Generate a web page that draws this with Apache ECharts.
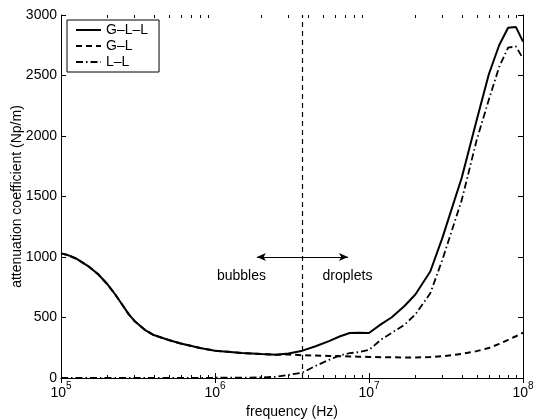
<!DOCTYPE html>
<html><head><meta charset="utf-8">
<script src="https://cdn.jsdelivr.net/npm/echarts@6/dist/echarts.min.js"></script>
<style>html,body{margin:0;padding:0;background:#fff}#c{width:533px;height:419px}</style>
</head><body><div id="c"></div>
<script>
// ---- data ----
const freq = [1e5,1.1e5,1.25e5,1.5e5,1.75e5,2e5,2.25e5,2.5e5,2.75e5,3e5,3.5e5,4e5,5e5,6e5,8e5,1e6,1.5e6,2e6,2.5e6,3e6,3.7e6,4.5e6,5.5e6,6.5e6,7.5e6,8.5e6,1e7,1.2e7,1.4e7,1.7e7,2e7,2.5e7,3e7,4e7,5e7,6e7,7e7,8e7,9e7,1e8];
const gll  = [1030,1017,988,925,855,775,690,605,528,472,398,355,314,285,248,225,207,198,193,202,226,262,305,345,372,374,372,445,500,595,690,880,1160,1655,2130,2510,2750,2895,2900,2780];
const gl   = [1030,1017,988,925,855,775,690,605,528,472,398,355,314,285,248,225,207,198,193,194,188,185,182,180,178,176,174,172,171,170,170,173,180,200,222,248,282,315,345,375];
const ll   = [0,0,0,0,0,0,0,0,0,0,0,0,0,0,0,2,3,5,10,25,45,100,150,188,205,213,232,318,372,440,525,700,980,1470,1965,2300,2570,2730,2740,2640];
const seriesNames = ['G–L–L','G–L','L–L'];
const xRange = [1e5, 1e8];
const yMin = 0, yMax = 3000, yInterval = 500;
const dividerFreq = 3.7e6;
const arrowFreqs = [1.87e6, 7.3e6];
const arrowLevel = 1000;
const regionLabels = [['bubbles', 1.486e6, 843], ['droplets', 7.25e6, 843]];
const xTitle = 'frequency (Hz)';
const yTitle = 'attenuation coefficient (Np/m)';

const FONT = '"Liberation Sans", Arial, Helvetica, sans-serif';
const pairs = v => freq.map((f, i) => [f, v[i]]);

const chart = echarts.init(document.getElementById('c'), null, {renderer: 'canvas'});
const axisLine = {show: true, lineStyle: {color: '#000', width: 1}};
const tick = {show: true, inside: true, length: 5, lineStyle: {color: '#000', width: 1}};

const option = {
  animation: false,
  backgroundColor: '#fff',
  textStyle: {fontFamily: FONT, color: '#000'},
  grid: {left: 61, right: 10, top: 15, bottom: 41, containLabel: false, outerBoundsMode: 'none'},
  legend: {
    data: seriesNames, orient: 'vertical', left: 67, top: 20,
    backgroundColor: '#fff', borderColor: '#000', borderWidth: 1,
    padding: [3, 11, 3, 8], itemGap: 2, itemWidth: 25, itemHeight: 14,
    itemStyle: {opacity: 0},
    textStyle: {fontSize: 14, color: '#000', fontFamily: FONT}
  },
  xAxis: [{
    type: 'log', logBase: 10, min: xRange[0], max: xRange[1], position: 'bottom',
    axisLine, axisTick: tick, splitLine: {show: false},
    axisLabel: {
      margin: 3, color: '#000', fontFamily: FONT,
      formatter: v => '{b|10}{s|' + Math.round(Math.log10(v)) + '}',
      rich: {b: {fontSize: 14, padding: [5, 0, 0, 0], fontFamily: FONT, color: '#000'},
             s: {fontSize: 10, verticalAlign: 'top', fontFamily: FONT, color: '#000'}}
    },
    name: xTitle, nameLocation: 'middle', nameGap: 26,
    nameTextStyle: {fontSize: 14, color: '#000', fontFamily: FONT}
  }, {
    type: 'log', logBase: 10, min: xRange[0], max: xRange[1], position: 'top',
    axisLine, axisTick: tick, axisLabel: {show: false}, splitLine: {show: false}
  }],
  yAxis: [{
    type: 'value', min: yMin, max: yMax, interval: yInterval, position: 'left',
    axisLine, axisTick: tick, splitLine: {show: false},
    axisLabel: {margin: 4, fontSize: 14, color: '#000', fontFamily: FONT, formatter: v => String(v)},
    name: yTitle, nameLocation: 'middle', nameGap: 37, nameMoveOverlap: false,
    nameTextStyle: {fontSize: 14, color: '#000', fontFamily: FONT}
  }, {
    type: 'value', min: yMin, max: yMax, interval: yInterval, position: 'right',
    axisLine, axisTick: tick, axisLabel: {show: false}, splitLine: {show: false}
  }],
  series: [
    {name: seriesNames[0], type: 'line', data: pairs(gll), symbol: 'none', z: 5,
     lineStyle: {color: '#000', width: 2, type: 'solid'}, itemStyle: {color: '#000'}},
    {name: seriesNames[1], type: 'line', data: pairs(gl), symbol: 'none', z: 4,
     lineStyle: {color: '#000', width: 2, type: [6, 4]}, itemStyle: {color: '#000'}},
    {name: seriesNames[2], type: 'line', data: pairs(ll), symbol: 'none', z: 3,
     lineStyle: {color: '#000', width: 1.8, type: [7, 3, 1.5, 3]}, itemStyle: {color: '#000'}},
    {name: 'divider', type: 'line', symbol: 'none', silent: true, z: 2,
     data: [[dividerFreq, yMin], [dividerFreq, yMax]],
     lineStyle: {color: '#000', width: 1.2, type: [5, 4]},
     markLine: {
       silent: true, symbol: ['arrow', 'arrow'], symbolSize: [6, 9],
       label: {show: false},
       lineStyle: {color: '#000', width: 1, type: 'solid'},
       itemStyle: {color: '#000'},
       data: [[{coord: [arrowFreqs[0], arrowLevel]}, {coord: [arrowFreqs[1], arrowLevel]}]]
     },
     markPoint: {
       silent: true, symbol: 'circle', symbolSize: 0,
       label: {show: true, position: 'inside', formatter: p => p.name, fontSize: 14, color: '#000', fontFamily: FONT},
       data: regionLabels.map(r => ({name: r[0], coord: [r[1], r[2]]}))
     }}
  ]
};
chart.setOption(option);

// MATLAB-style minor ticks on the log axes (bottom and top), inside
const yb = chart.convertToPixel({yAxisIndex: 0}, yMin);
const yt = chart.convertToPixel({yAxisIndex: 0}, yMax);
const g = [];
for (let k = 5; k < 8; k++) {
  for (let m = 2; m <= 9; m++) {
    const x = Math.round(chart.convertToPixel({xAxisIndex: 0}, m * Math.pow(10, k))) + 0.5;
    g.push({type: 'line', silent: true, shape: {x1: x, y1: yb, x2: x, y2: yb - 3}, style: {stroke: '#000', lineWidth: 1}});
    g.push({type: 'line', silent: true, shape: {x1: x, y1: yt, x2: x, y2: yt + 3}, style: {stroke: '#000', lineWidth: 1}});
  }
}
chart.setOption({graphic: g});
</script>
</body></html>
